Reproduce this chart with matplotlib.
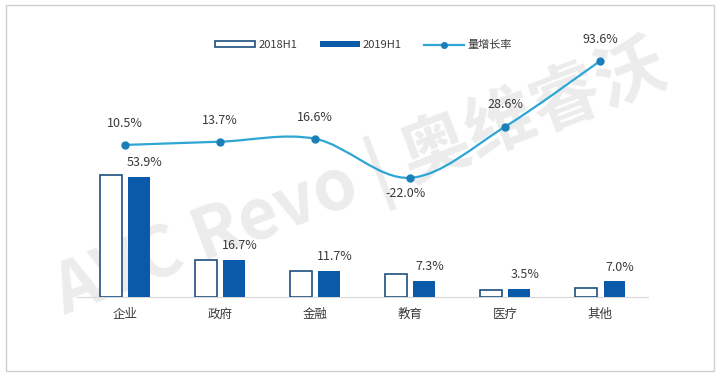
import matplotlib
matplotlib.use("Agg")
import matplotlib.pyplot as plt
from matplotlib.path import Path
from matplotlib.patches import PathPatch, FancyBboxPatch
import numpy as np

plt.rcParams['font.family'] = ['Noto Sans CJK SC', 'DejaVu Sans']

# data
categories = ['企业', '政府', '金融', '教育', '医疗', '其他']
share_2018 = [54.7, 16.6, 11.6, 10.3, 3.2, 4.0]
share_2019 = [53.9, 16.7, 11.7, 7.3, 3.5, 7.0]
growth = [10.5, 13.7, 16.6, -22.0, 28.6, 93.6]
bar_labels = ['53.9%', '16.7%', '11.7%', '7.3%', '3.5%', '7.0%']
growth_labels = ['10.5%', '13.7%', '16.6%', '-22.0%', '28.6%', '93.6%']

c_edge = '#1d4f7e'
c_fill = '#0b5aa9'
c_line = '#2ea6d4'
c_dot = '#1b7fb8'
c_text = '#3a3a3a'

fig = plt.figure(figsize=(7.2, 3.76), dpi=100)
# outer frame
fig.patches.append(FancyBboxPatch((0.008, 0.012), 0.984, 0.976, boxstyle='square,pad=0',
                                  transform=fig.transFigure, fill=False,
                                  edgecolor='#d0d0d0', linewidth=1.0))

# watermark
fig.text(0.50, 0.52, 'AVC Revo | 奥维睿沃', fontsize=50, fontweight='bold',
         color='#ececec', rotation=21, ha='center', va='center', zorder=-1)

ax = fig.add_axes([0.1076, 0.210, 0.792, 0.684])
ax.patch.set_alpha(0)
x = np.arange(len(categories))
w = 0.23
ax.bar(x - 0.15, share_2018, w, facecolor='white', edgecolor=c_edge, linewidth=1.2,
       label='2018H1', zorder=3)
ax.bar(x + 0.15, share_2019, w, color=c_fill, label='2019H1', zorder=3)
for xi, v, t in zip(x, share_2019, bar_labels):
    ax.text(xi + 0.21, v + 3.5, t, ha='center', va='bottom', fontsize=9,
            fontweight='light', color=c_text)

ax.set_xlim(-0.5, 5.5)
ax.set_ylim(0, 115.2)
ax.set_yticks([])
ax.set_xticks(x)
ax.set_xticklabels(categories, fontsize=9, fontweight='light', color=c_text)
ax.tick_params(axis='x', length=0, pad=8)
for s in ['top', 'right', 'left']:
    ax.spines[s].set_visible(False)
ax.spines['bottom'].set_color('#d9d9d9')

ax2 = ax.twinx()
ax2.set_ylim(-139.9, 114.4)
ax2.set_yticks([])
for s in ax2.spines.values():
    s.set_visible(False)

# smooth curve through the points (Catmull-Rom as cubic Bezier)
pts = np.column_stack([x, growth]).astype(float)
verts = [tuple(pts[0])]
codes = [Path.MOVETO]
for i in range(len(pts) - 1):
    p0 = pts[i - 1] if i > 0 else pts[i]
    p1, p2 = pts[i], pts[i + 1]
    p3 = pts[i + 2] if i + 2 < len(pts) else pts[i + 1]
    c1 = p1 + (p2 - p0) / 6
    c2 = p2 - (p3 - p1) / 6
    verts += [tuple(c1), tuple(c2), tuple(p2)]
    codes += [Path.CURVE4] * 3
ax2.add_patch(PathPatch(Path(verts, codes), fill=False, edgecolor=c_line, linewidth=1.6, zorder=4))
ax2.plot(x, growth, linestyle='none', marker='o', markersize=5, color=c_dot, zorder=5)
line_handle, = ax2.plot([], [], color=c_line, linewidth=1.6, marker='o', markersize=4,
                        markerfacecolor=c_dot, markeredgecolor=c_dot, label='量增长率')
for xi, v, t in zip(x, growth, growth_labels):
    if v < 0:
        ax2.text(xi - 0.05, v - 9, t, ha='center', va='top', fontsize=9,
                 fontweight='light', color=c_text)
    else:
        ax2.text(xi, v + 15, t, ha='center', va='bottom', fontsize=9,
                 fontweight='light', color=c_text)

h1, l1 = ax.get_legend_handles_labels()
leg = fig.legend(h1 + [line_handle], l1 + ['量增长率'], loc='center', bbox_to_anchor=(0.505, 0.88),
                 ncol=3, frameon=False, fontsize=8, handlelength=3.6, handleheight=0.5,
                 columnspacing=2.0, handletextpad=0.3, labelcolor=c_text)
for t in leg.get_texts():
    t.set_fontweight('light')

fig.savefig('out.png', dpi=100)
